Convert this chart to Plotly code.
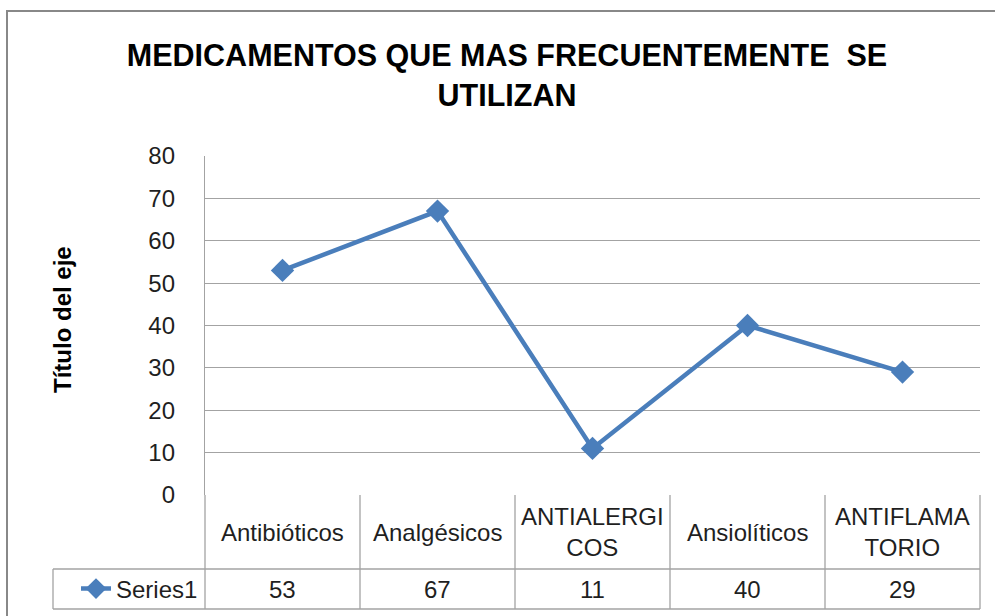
import plotly.graph_objects as go

# ---- data ----
categories = ["Antibióticos", "Analgésicos", "ANTIALERGI<br>COS", "Ansiolíticos", "ANTIFLAMA<br>TORIO"]
series_name = "Series1"
values = [53, 67, 11, 40, 29]
y_ticks = [0, 10, 20, 30, 40, 50, 60, 70, 80]

# ---- layout geometry (pixels) ----
W, H = 995, 616
L, R, T, B = 205, 15, 156, 121
PW, PH = W - L - R, H - T - B
FONT = "Liberation Sans, Arial, sans-serif"
GRID = "#a3a3a3"
BLUE = "#4a7ebb"
TXT = "#1f1f1f"


def px2x(p):
    return (p - L) / PW


def py2y(p):
    return (H - B - p) / PH


n = len(categories)
xs = list(range(n))

fig = go.Figure()
fig.add_trace(go.Scatter(
    x=xs, y=values, name=series_name, mode="lines+markers",
    line=dict(color=BLUE, width=4.5),
    marker=dict(symbol="diamond", size=18, color=BLUE),
    showlegend=True,
))

# data table geometry
row1_bottom = 569
table_bottom = 609
legend_left = 53

shapes = []
line_style = dict(color=GRID, width=1.3)
for i in range(n + 1):
    xp = i / n
    shapes.append(dict(type="line", xref="paper", yref="paper",
                       x0=xp, x1=xp, y0=py2y(table_bottom), y1=0, line=line_style))
shapes.append(dict(type="line", xref="paper", yref="paper",
                   x0=px2x(legend_left), x1=1, y0=py2y(row1_bottom), y1=py2y(row1_bottom), line=line_style))
shapes.append(dict(type="line", xref="paper", yref="paper",
                   x0=px2x(legend_left), x1=1, y0=py2y(table_bottom), y1=py2y(table_bottom), line=line_style))
shapes.append(dict(type="line", xref="paper", yref="paper",
                   x0=px2x(legend_left), x1=px2x(legend_left), y0=py2y(table_bottom), y1=py2y(row1_bottom),
                   line=line_style))
# chart outer frame
shapes.append(dict(type="rect", xref="paper", yref="paper",
                   x0=px2x(7), x1=px2x(1012), y0=py2y(640), y1=py2y(11),
                   line=dict(color="#888888", width=2)))

annotations = []
for i, c in enumerate(categories):
    annotations.append(dict(x=i, xref="x", xanchor="center", y=py2y((495 + row1_bottom) / 2), yref="paper",
                            text=c, showarrow=False, font=dict(family=FONT, size=24, color=TXT),
                            align="center", yanchor="middle"))
for i, v in enumerate(values):
    annotations.append(dict(x=i, xref="x", xanchor="center", y=py2y((row1_bottom + table_bottom) / 2),
                            yref="paper", text=str(v), showarrow=False,
                            font=dict(family=FONT, size=24, color=TXT), yanchor="middle"))
annotations.append(dict(x=px2x(62), xref="paper", xanchor="center", y=py2y(320), yref="paper",
                        yanchor="middle", text="<b>Título del eje</b>", textangle=-90, showarrow=False,
                        font=dict(family=FONT, size=24, color="#000000")))

fig.update_layout(
    width=W, height=H,
    margin=dict(l=L, r=R, t=T, b=B, autoexpand=False),
    paper_bgcolor="white", plot_bgcolor="white",
    title=dict(text="<b>MEDICAMENTOS QUE MAS FRECUENTEMENTE  SE<br>UTILIZAN</b>",
               x=507 / W, xanchor="center", y=1 - 66 / H, yanchor="top",
               font=dict(family=FONT, size=30.5, color="#000000")),
    xaxis=dict(range=[-0.5, n - 0.5], showgrid=False, zeroline=False,
               showticklabels=False, showline=False, fixedrange=True),
    yaxis=dict(range=[0, 80], tickvals=y_ticks, showgrid=True, gridcolor=GRID, gridwidth=1.3,
               zeroline=False, showline=True, linecolor=GRID, linewidth=1.3,
               ticks="", ticklabelstandoff=24,
               tickfont=dict(family=FONT, size=24, color=TXT)),
    showlegend=True,
    legend=dict(x=px2x(76), xanchor="left", y=py2y((row1_bottom + table_bottom) / 2), yanchor="middle",
                bgcolor="rgba(0,0,0,0)", borderwidth=0,
                font=dict(family=FONT, size=24, color=TXT)),
    shapes=shapes,
    annotations=annotations,
)

fig.write_html("out.html", config={"displayModeBar": False},
               post_script="document.body.style.margin='0';")
